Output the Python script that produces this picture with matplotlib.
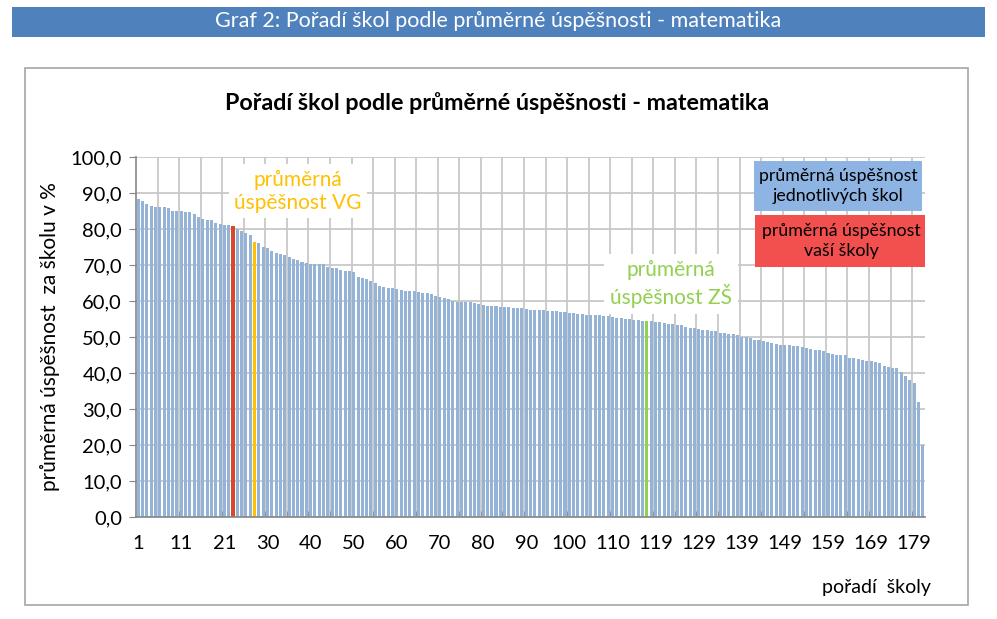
import matplotlib
matplotlib.use('Agg')
import matplotlib.pyplot as plt
from matplotlib.patches import Rectangle
import numpy as np

plt.rcParams['font.family'] = ['Lato', 'DejaVu Sans']

# average success of each school (bars, in rank order, with VG and ZS averages inserted)
values = [
    88.4, 87.8, 87.0, 86.4, 86.2, 86.2, 86.2, 85.7, 85.1, 85.0,
    85.0, 84.8, 84.7, 84.2, 83.2, 82.8, 82.6, 82.5, 81.6, 81.4,
    81.2, 81.0, 80.8, 79.9, 79.5, 79.0, 78.4, 76.3, 76.2, 75.1,
    74.7, 73.9, 73.4, 73.1, 72.8, 72.3, 71.8, 71.4, 70.9, 70.6,
    70.4, 70.4, 70.4, 70.2, 69.5, 69.3, 69.2, 68.6, 68.4, 68.3,
    68.1, 66.8, 66.3, 66.0, 65.6, 65.1, 64.3, 63.9, 63.6, 63.5,
    63.3, 63.0, 62.9, 62.8, 62.7, 62.4, 62.3, 62.2, 61.9, 61.5,
    61.1, 60.8, 60.5, 60.1, 59.8, 59.7, 59.6, 59.6, 59.5, 59.3,
    58.8, 58.7, 58.6, 58.5, 58.3, 58.2, 58.2, 58.1, 58.1, 58.0,
    57.7, 57.6, 57.5, 57.5, 57.4, 57.3, 57.3, 57.2, 57.0, 56.9,
    56.8, 56.7, 56.4, 56.3, 56.2, 56.2, 56.1, 56.0, 55.9, 55.8,
    55.5, 55.3, 55.2, 55.0, 54.9, 54.7, 54.6, 54.5, 54.5, 54.4,
    54.2, 54.1, 54.0, 53.7, 53.5, 53.4, 53.2, 52.9, 52.6, 52.4,
    52.2, 51.9, 51.9, 51.8, 51.7, 51.2, 51.0, 50.9, 50.7, 50.5,
    50.1, 49.9, 49.6, 49.3, 49.1, 48.9, 48.5, 48.2, 48.0, 47.9,
    47.8, 47.7, 47.6, 47.5, 47.3, 46.9, 46.7, 46.5, 46.4, 46.0,
    45.5, 45.4, 45.1, 44.9, 45.1, 44.1, 44.1, 43.8, 43.6, 43.4,
    43.2, 43.0, 42.8, 42.0, 41.6, 41.4, 41.3, 40.2, 39.2, 38.0,
    37.2, 31.9, 20.0,
]
school_idx = 22   # vaše škola
vg_idx = 27       # průměr VG
zs_idx = 118      # průměr ZŠ

xtick_labels = ['1', '11', '21', '30', '40', '50', '60', '70', '80', '90',
                '100', '110', '119', '129', '139', '149', '159', '169', '179']
yticks = [0, 10, 20, 30, 40, 50, 60, 70, 80, 90, 100]

c_bar = '#95B3D7'
c_school = '#D9482B'
c_vg = '#FFC000'
c_zs = '#92D050'
c_grid = '#C8C8C8'

W, H = 997, 619
fig = plt.figure(figsize=(W / 100, H / 100), dpi=100)
fig.patch.set_facecolor('white')

# header band
fig.patches.append(Rectangle((12 / W, 1 - 37 / H), 973 / W, 30 / H, transform=fig.transFigure,
                             facecolor='#4F81BD', edgecolor='none'))
fig.text(498 / W, 1 - 21 / H, 'Graf 2: Pořadí škol podle průměrné úspěšnosti - matematika',
         color='white', fontsize=15.5, ha='center', va='center')
# chart area border
fig.patches.append(Rectangle((25 / W, 1 - 605 / H), 943 / W, 537 / H, transform=fig.transFigure,
                             facecolor='none', edgecolor='#A6A6A6', linewidth=1.2))
fig.text(497 / W, 1 - 103 / H, 'Pořadí škol podle průměrné úspěšnosti - matematika',
         fontsize=16.8, fontweight='bold', ha='center', va='center')

ax = fig.add_axes([136 / W, 1 - 517 / H, 789 / W, 360 / H])
n = len(values)
x = np.arange(n)
colors = [c_bar] * n
colors[school_idx] = c_school
colors[vg_idx] = c_vg
colors[zs_idx] = c_zs
ax.bar(x, values, width=0.7, color=colors, zorder=2)

ax.set_xlim(-0.5, n - 0.5)
ax.set_ylim(0, 100)
ax.set_yticks(yticks)
ax.set_yticklabels([f'{v:.1f}'.replace('.', ',') for v in yticks], fontsize=14.5)
ax.set_xticks(np.arange(0, n, 10)[:len(xtick_labels)])
ax.set_xticklabels(xtick_labels, fontsize=14.5)
ax.set_xticks(np.arange(4.5, n, 5), minor=True)
ax.tick_params(axis='x', which='major', length=0, pad=13)
ax.tick_params(axis='x', which='minor', length=4, direction='in', color='#868686')
ax.tick_params(axis='y', length=5, color='#868686', pad=5)
ax.grid(axis='y', color=c_grid, linewidth=1.3, zorder=0)
ax.grid(axis='x', which='minor', color=c_grid, linewidth=1.3, zorder=0)
ax.set_axisbelow(True)
for s in ['top', 'right']:
    ax.spines[s].set_visible(False)
for s in ['left', 'bottom']:
    ax.spines[s].set_color('#868686')
    ax.spines[s].set_linewidth(1.2)

ax.set_ylabel('průměrná úspěšnost  za školu v %', fontsize=15, labelpad=8)
fig.text(931 / W, 1 - 587 / H, 'pořadí  školy', fontsize=14, ha='right', va='center')

# annotations
ax.text(37.1, 90.5, 'průměrná\núspěšnost VG', color=c_vg, fontsize=15, ha='center', va='center',
        linespacing=1.2, zorder=3, bbox=dict(facecolor='white', edgecolor='none', pad=4))
ax.text(123.6, 64.7, 'průměrná\núspěšnost ZŠ', color=c_zs, fontsize=15, ha='center', va='center',
        linespacing=1.2, zorder=3, bbox=dict(facecolor='white', edgecolor='none', pad=4))

# legend boxes
ax.add_patch(Rectangle((142.9, 84.9), 39.0, 13.9, facecolor='#8DB4E2', edgecolor='none', zorder=3))
ax.text(162.4, 91.85, 'průměrná úspěšnost\njednotlivých škol', fontsize=12.8, ha='center', va='center',
        linespacing=1.3, zorder=4)
ax.add_patch(Rectangle((143.1, 69.4), 39.9, 14.4, facecolor='#F24F4F', edgecolor='none', zorder=3))
ax.text(163.05, 76.6, 'průměrná úspěšnost\nvaší školy', fontsize=12.8, ha='center', va='center',
        linespacing=1.3, zorder=4)

fig.savefig('out.png', dpi=100)
